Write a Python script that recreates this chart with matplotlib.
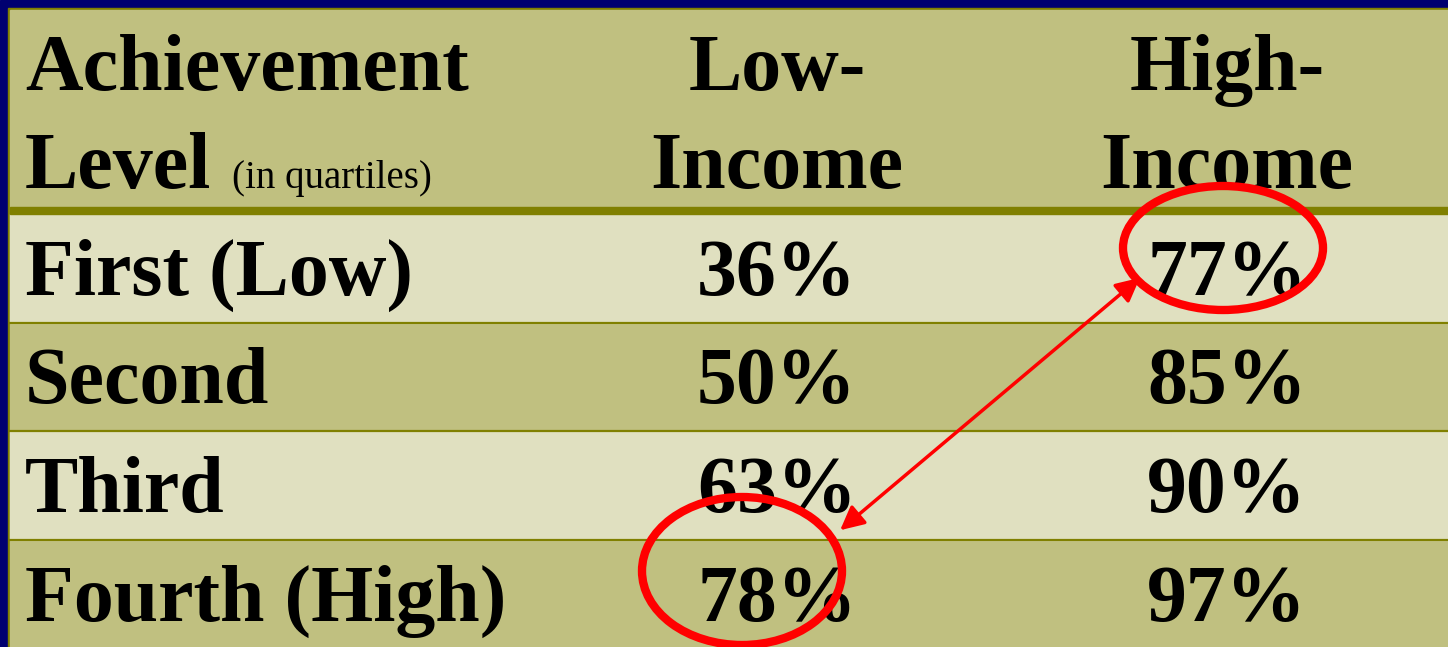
import matplotlib
matplotlib.use("Agg")
import matplotlib.pyplot as plt
from matplotlib.patches import Rectangle, Ellipse, FancyArrowPatch

# table content
levels = ["First (Low)", "Second", "Third", "Fourth (High)"]
low_income = [36, 50, 63, 78]
high_income = [77, 85, 90, 97]
col_heads = ["Low-\nIncome", "High-\nIncome"]

NAVY = "#000070"
OLIVE = "#c0c080"
LIGHT = "#e0e0c0"
LINE = "#808000"

W, H = 1448, 647
fig = plt.figure(figsize=(W / 100, H / 100), dpi=100)
ax = fig.add_axes([0, 0, 1, 1])
ax.set_xlim(0, W)
ax.set_ylim(H, 0)
ax.axis("off")

# frame: navy border on top/left, olive table body
ax.add_patch(Rectangle((0, 0), W, H, color=NAVY, zorder=0))
ax.add_patch(Rectangle((8, 8), W, H, color=LINE, zorder=0.5))
ax.add_patch(Rectangle((10, 10), W, H, color=OLIVE, zorder=1))

head_bottom = 207
row_h = 108.5
rows_top = head_bottom + 7
col_x = [777, 1227]
font = dict(family="Liberation Serif", weight="bold", size=57.5, color="black")

for i in range(len(levels)):
    top = rows_top + i * row_h
    if i % 2 == 0:
        ax.add_patch(Rectangle((10, top), W, row_h, color=LIGHT, zorder=1.5))
    if i > 0:
        ax.plot([10, W], [top, top], color=LINE, lw=1.6, zorder=2)
ax.add_patch(Rectangle((10, head_bottom), W, 7, color=LINE, zorder=2))

# header
ax.text(25, 90, "Achievement", ha="left", va="baseline", **font)
ax.text(25, 188, "Level", ha="left", va="baseline", **font)
ax.text(232, 188, "(in quartiles)", ha="left", va="baseline",
        family="Liberation Serif", size=28, color="black")
for x, head in zip(col_x, col_heads):
    top_line, bottom_line = head.split("\n")
    ax.text(x, 90, top_line, ha="center", va="baseline", **font)
    ax.text(x, 188, bottom_line, ha="center", va="baseline", **font)

# body
for i, (lvl, lo, hi) in enumerate(zip(levels, low_income, high_income)):
    base = rows_top + i * row_h + 81
    ax.text(25, base, lvl, ha="left", va="baseline", **font)
    ax.text(col_x[0], base, f"{lo}%", ha="center", va="baseline", **font)
    ax.text(col_x[1], base, f"{hi}%", ha="center", va="baseline", **font)

# red annotations
ax.add_patch(Ellipse((1223, 248), 200, 124, fill=False, ec="#ff0000", lw=6, zorder=5))
ax.add_patch(Ellipse((742, 571), 200, 148, fill=False, ec="#ff0000", lw=6, zorder=5))
ax.add_patch(FancyArrowPatch((1142, 276), (838, 532), arrowstyle="<|-|>",
                             mutation_scale=36, color="#ff0000", lw=2.5, zorder=5))

fig.savefig("out.png", dpi=100)
